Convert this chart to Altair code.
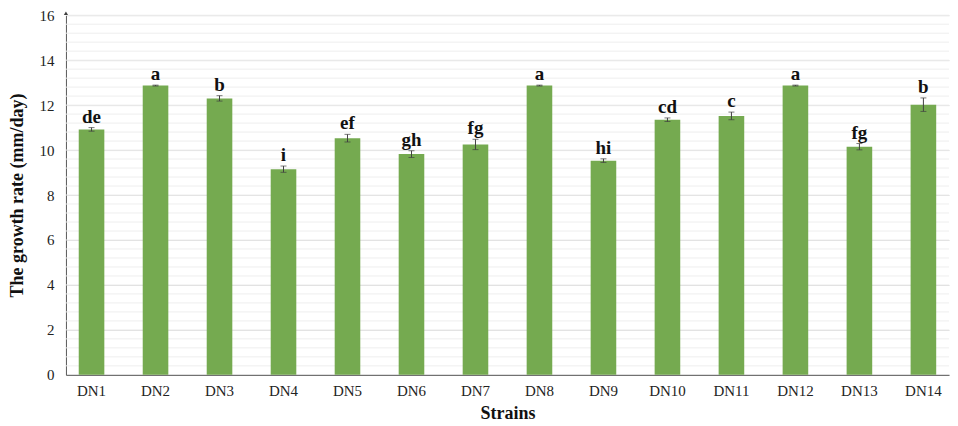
import altair as alt
import pandas as pd
import numpy as np

strains = ["DN1", "DN2", "DN3", "DN4", "DN5", "DN6", "DN7", "DN8", "DN9", "DN10", "DN11", "DN12", "DN13", "DN14"]
rates = [10.92, 12.87, 12.30, 9.15, 10.53, 9.82, 10.25, 12.87, 9.53, 11.35, 11.52, 12.87, 10.15, 12.02]
errors = [0.08, 0.02, 0.12, 0.14, 0.17, 0.15, 0.23, 0.02, 0.08, 0.08, 0.17, 0.02, 0.14, 0.30]
letters = ["de", "a", "b", "i", "ef", "gh", "fg", "a", "hi", "cd", "c", "a", "fg", "b"]

df = pd.DataFrame({"strain": strains, "rate": rates, "err": errors, "letter": letters})
df["top"] = df["rate"] + df["err"]
df["low"] = df["rate"] - df["err"]

minor = pd.DataFrame({"g": [round(v, 2) for v in np.arange(0.4, 16.01, 0.4)]})
arrow = pd.DataFrame({"y": [16]})

FONT = "Liberation Serif"

xenc = alt.X("strain:N", sort=strains,
             scale=alt.Scale(paddingInner=0.6, paddingOuter=0.2),
             axis=alt.Axis(title="Strains", labelAngle=0, labelFont=FONT, labelFontSize=15,
                           labelColor="#222222", labelPadding=9, ticks=False, grid=False,
                           domainColor="#595959", titleFont=FONT, titleFontSize=18,
                           titleFontWeight="bold", titleColor="#111111", titlePadding=6))
yscale = alt.Scale(domain=[0, 16], nice=False)

grid = alt.Chart(minor).mark_rule(color="#eeeeee", strokeWidth=1).encode(
    y=alt.Y("g:Q", scale=yscale)
)

bars = alt.Chart(df).mark_bar(color="#75AA50").encode(
    x=xenc,
    y=alt.Y("rate:Q", scale=yscale,
            axis=alt.Axis(title="The growth rate (mm/day)", values=list(range(0, 17, 2)),
                          labelFont=FONT, labelFontSize=15, labelColor="#222222",
                          labelPadding=12, ticks=False, domainColor="#595959", grid=True,
                          gridColor="#d9d9d9", titleFont=FONT, titleFontSize=18,
                          titleFontWeight="bold", titleColor="#111111", titlePadding=12)),
)

ebars = alt.Chart(df).mark_errorbar(ticks=alt.MarkConfig(size=6), color="#404040", thickness=1).encode(
    x=alt.X("strain:N", sort=strains),
    y=alt.Y("low:Q", scale=yscale, title=""),
    y2="top:Q",
)

text = alt.Chart(df).mark_text(font=FONT, fontSize=19, fontWeight="bold", color="#111111",
                               baseline="alphabetic", dy=-5).encode(
    x=alt.X("strain:N", sort=strains),
    y=alt.Y("top:Q", scale=yscale),
    text="letter:N",
)

tip = alt.Chart(arrow).mark_point(shape="triangle-up", filled=True, size=18, color="#404040",
                                  opacity=1, yOffset=-2).encode(
    x=alt.value(0),
    y=alt.Y("y:Q", scale=yscale),
)

chart = alt.layer(grid, bars, ebars, text, tip).properties(
    width=884, height=360,
    padding={"left": 1, "top": 0, "right": 0, "bottom": 5},
).configure_view(stroke=None)

chart.save("out.html", embed_options={"renderer": "svg", "actions": False})
